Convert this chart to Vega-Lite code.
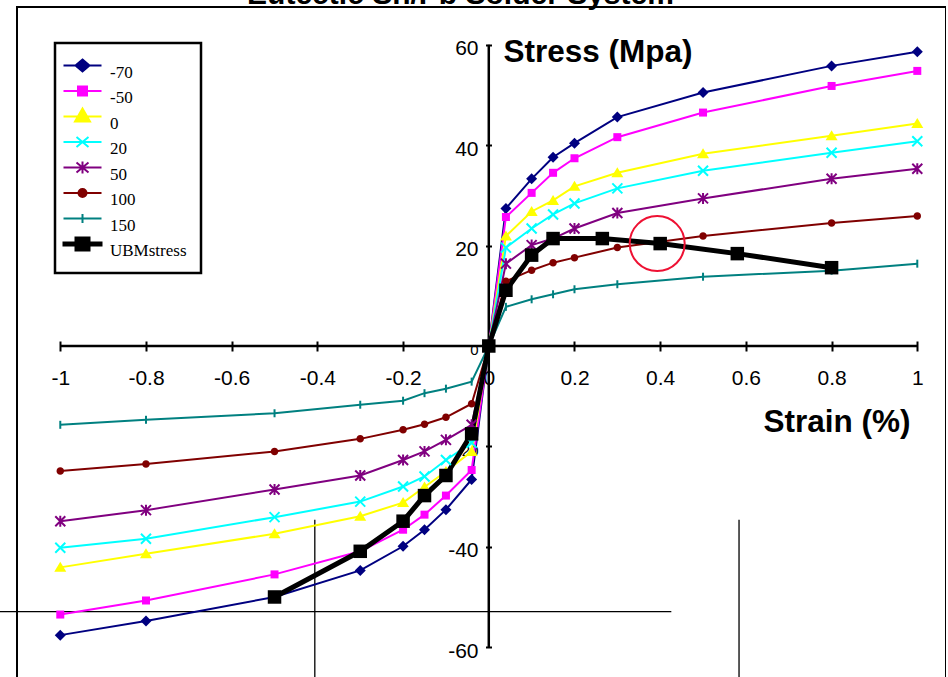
{
  "$schema": "https://vega.github.io/schema/vega-lite/v6.json",
  "width": 929,
  "height": 683,
  "autosize": {"type": "none"},
  "padding": {"left": 17, "top": 7, "right": 0, "bottom": 0},
  "background": "white",
  "config": {
    "view": {"stroke": "black", "strokeWidth": 2},
    "font": "Liberation Sans"
  },
  "title": {
    "text": "Eutectic Sn/Pb Solder System",
    "font": "Liberation Sans",
    "fontSize": 30,
    "fontWeight": "bold",
    "color": "black",
    "anchor": "middle",
    "frame": "group",
    "baseline": "alphabetic",
    "offset": 0,
    "dy": 26.5,
    "dx": -21
  },
  "datasets": {
    "curves": [
      {"series": "-70", "strain": -1, "stress": -57.6},
      {"series": "-70", "strain": -0.8, "stress": -54.8},
      {"series": "-70", "strain": -0.5, "stress": -50.0},
      {"series": "-70", "strain": -0.3, "stress": -44.7},
      {"series": "-70", "strain": -0.2, "stress": -39.9},
      {"series": "-70", "strain": -0.15, "stress": -36.6},
      {"series": "-70", "strain": -0.1, "stress": -32.6},
      {"series": "-70", "strain": -0.04, "stress": -26.6},
      {"series": "-70", "strain": 0, "stress": 0},
      {"series": "-70", "strain": 0.04, "stress": 27.4},
      {"series": "-70", "strain": 0.1, "stress": 33.3},
      {"series": "-70", "strain": 0.15, "stress": 37.6},
      {"series": "-70", "strain": 0.2, "stress": 40.4},
      {"series": "-70", "strain": 0.3, "stress": 45.6},
      {"series": "-70", "strain": 0.5, "stress": 50.5},
      {"series": "-70", "strain": 0.8, "stress": 55.8},
      {"series": "-70", "strain": 1, "stress": 58.6},

      {"series": "-50", "strain": -1, "stress": -53.5},
      {"series": "-50", "strain": -0.8, "stress": -50.7},
      {"series": "-50", "strain": -0.5, "stress": -45.5},
      {"series": "-50", "strain": -0.3, "stress": -40.9},
      {"series": "-50", "strain": -0.2, "stress": -36.6},
      {"series": "-50", "strain": -0.15, "stress": -33.6},
      {"series": "-50", "strain": -0.1, "stress": -29.8},
      {"series": "-50", "strain": -0.04, "stress": -24.7},
      {"series": "-50", "strain": 0, "stress": 0},
      {"series": "-50", "strain": 0.04, "stress": 25.7},
      {"series": "-50", "strain": 0.1, "stress": 30.5},
      {"series": "-50", "strain": 0.15, "stress": 34.5},
      {"series": "-50", "strain": 0.2, "stress": 37.4},
      {"series": "-50", "strain": 0.3, "stress": 41.6},
      {"series": "-50", "strain": 0.5, "stress": 46.5},
      {"series": "-50", "strain": 0.8, "stress": 51.8},
      {"series": "-50", "strain": 1, "stress": 54.8},

      {"series": "0", "strain": -1, "stress": -44.1},
      {"series": "0", "strain": -0.8, "stress": -41.4},
      {"series": "0", "strain": -0.5, "stress": -37.4},
      {"series": "0", "strain": -0.3, "stress": -33.9},
      {"series": "0", "strain": -0.2, "stress": -31.2},
      {"series": "0", "strain": -0.15, "stress": -28.1},
      {"series": "0", "strain": -0.1, "stress": -25.0},
      {"series": "0", "strain": -0.04, "stress": -21.0},
      {"series": "0", "strain": 0, "stress": 0},
      {"series": "0", "strain": 0.04, "stress": 21.9},
      {"series": "0", "strain": 0.1, "stress": 26.8},
      {"series": "0", "strain": 0.15, "stress": 29.0},
      {"series": "0", "strain": 0.2, "stress": 31.8},
      {"series": "0", "strain": 0.3, "stress": 34.5},
      {"series": "0", "strain": 0.5, "stress": 38.3},
      {"series": "0", "strain": 0.8, "stress": 41.9},
      {"series": "0", "strain": 1, "stress": 44.3},

      {"series": "20", "strain": -1, "stress": -40.2},
      {"series": "20", "strain": -0.8, "stress": -38.4},
      {"series": "20", "strain": -0.5, "stress": -34.1},
      {"series": "20", "strain": -0.3, "stress": -31.0},
      {"series": "20", "strain": -0.2, "stress": -28.0},
      {"series": "20", "strain": -0.15, "stress": -26.0},
      {"series": "20", "strain": -0.1, "stress": -22.7},
      {"series": "20", "strain": -0.04, "stress": -19.3},
      {"series": "20", "strain": 0, "stress": 0},
      {"series": "20", "strain": 0.04, "stress": 19.6},
      {"series": "20", "strain": 0.1, "stress": 23.4},
      {"series": "20", "strain": 0.15, "stress": 26.2},
      {"series": "20", "strain": 0.2, "stress": 28.4},
      {"series": "20", "strain": 0.3, "stress": 31.4},
      {"series": "20", "strain": 0.5, "stress": 34.9},
      {"series": "20", "strain": 0.8, "stress": 38.5},
      {"series": "20", "strain": 1, "stress": 40.8},

      {"series": "50", "strain": -1, "stress": -34.9},
      {"series": "50", "strain": -0.8, "stress": -32.7},
      {"series": "50", "strain": -0.5, "stress": -28.6},
      {"series": "50", "strain": -0.3, "stress": -25.8},
      {"series": "50", "strain": -0.2, "stress": -22.7},
      {"series": "50", "strain": -0.15, "stress": -21.0},
      {"series": "50", "strain": -0.1, "stress": -18.7},
      {"series": "50", "strain": -0.04, "stress": -15.7},
      {"series": "50", "strain": 0, "stress": 0},
      {"series": "50", "strain": 0.04, "stress": 16.4},
      {"series": "50", "strain": 0.1, "stress": 20.1},
      {"series": "50", "strain": 0.15, "stress": 21.4},
      {"series": "50", "strain": 0.2, "stress": 23.4},
      {"series": "50", "strain": 0.3, "stress": 26.5},
      {"series": "50", "strain": 0.5, "stress": 29.4},
      {"series": "50", "strain": 0.8, "stress": 33.3},
      {"series": "50", "strain": 1, "stress": 35.3},

      {"series": "100", "strain": -1, "stress": -24.9},
      {"series": "100", "strain": -0.8, "stress": -23.5},
      {"series": "100", "strain": -0.5, "stress": -21.0},
      {"series": "100", "strain": -0.3, "stress": -18.5},
      {"series": "100", "strain": -0.2, "stress": -16.7},
      {"series": "100", "strain": -0.15, "stress": -15.6},
      {"series": "100", "strain": -0.1, "stress": -14.2},
      {"series": "100", "strain": -0.04, "stress": -11.5},
      {"series": "100", "strain": 0, "stress": 0},
      {"series": "100", "strain": 0.04, "stress": 12.9},
      {"series": "100", "strain": 0.1, "stress": 15.1},
      {"series": "100", "strain": 0.15, "stress": 16.6},
      {"series": "100", "strain": 0.2, "stress": 17.6},
      {"series": "100", "strain": 0.3, "stress": 19.6},
      {"series": "100", "strain": 0.5, "stress": 21.9},
      {"series": "100", "strain": 0.8, "stress": 24.5},
      {"series": "100", "strain": 1, "stress": 25.9},

      {"series": "150", "strain": -1, "stress": -15.7},
      {"series": "150", "strain": -0.8, "stress": -14.7},
      {"series": "150", "strain": -0.5, "stress": -13.4},
      {"series": "150", "strain": -0.3, "stress": -11.7},
      {"series": "150", "strain": -0.2, "stress": -10.9},
      {"series": "150", "strain": -0.15, "stress": -9.4},
      {"series": "150", "strain": -0.1, "stress": -8.5},
      {"series": "150", "strain": -0.04, "stress": -7.1},
      {"series": "150", "strain": 0, "stress": 0},
      {"series": "150", "strain": 0.04, "stress": 7.8},
      {"series": "150", "strain": 0.1, "stress": 9.3},
      {"series": "150", "strain": 0.15, "stress": 10.3},
      {"series": "150", "strain": 0.2, "stress": 11.3},
      {"series": "150", "strain": 0.3, "stress": 12.3},
      {"series": "150", "strain": 0.5, "stress": 13.8},
      {"series": "150", "strain": 0.8, "stress": 15.0},
      {"series": "150", "strain": 1, "stress": 16.4},

      {"series": "UBMstress", "strain": -0.5, "stress": -50.0},
      {"series": "UBMstress", "strain": -0.3, "stress": -40.9},
      {"series": "UBMstress", "strain": -0.2, "stress": -34.9},
      {"series": "UBMstress", "strain": -0.15, "stress": -29.8},
      {"series": "UBMstress", "strain": -0.1, "stress": -25.8},
      {"series": "UBMstress", "strain": -0.04, "stress": -17.5},
      {"series": "UBMstress", "strain": 0, "stress": 0},
      {"series": "UBMstress", "strain": 0.04, "stress": 11.1},
      {"series": "UBMstress", "strain": 0.1, "stress": 18.1},
      {"series": "UBMstress", "strain": 0.15, "stress": 21.4},
      {"series": "UBMstress", "strain": 0.265, "stress": 21.4},
      {"series": "UBMstress", "strain": 0.4, "stress": 20.4},
      {"series": "UBMstress", "strain": 0.58, "stress": 18.4},
      {"series": "UBMstress", "strain": 0.8, "stress": 15.6}
    ],
    "axislines": [
      {"strain": -1, "strain2": 1, "stress": 0, "stress2": 0},
      {"strain": 0, "strain2": 0, "stress": -60, "stress2": 60}
    ],
    "stray": [
      {"strain": -1.141, "strain2": 0.426, "stress": -52.9, "stress2": -52.9},
      {"strain": -0.406, "strain2": -0.406, "stress": -34.6, "stress2": -68.5},
      {"strain": 0.584, "strain2": 0.584, "stress": -34.6, "stress2": -68.5}
    ],
    "highlight": [
      {"strain": 0.393, "stress": 20.4}
    ]
  },
  "layer": [
    {
      "data": {"name": "axislines"},
      "mark": {"type": "rule", "color": "black", "strokeWidth": 2.5},
      "encoding": {
        "x": {
          "field": "strain", "type": "quantitative",
          "scale": {"domain": [-1.101, 1.067], "nice": false, "zero": false},
          "axis": {
            "values": [-1, -0.8, -0.6, -0.4, -0.2, 0, 0.2, 0.4, 0.6, 0.8, 1],
            "orient": "bottom",
            "offset": -349,
            "domain": false,
            "grid": false,
            "ticks": true,
            "tickSize": 10,
            "tickWidth": 2,
            "tickColor": "black",
            "labelFont": "Liberation Sans",
            "labelFontSize": 21,
            "labelColor": "black",
            "labelBaseline": "middle",
            "labelPadding": 27,
            "labelFlush": false,
            "labelOverlap": false,
            "labelExpr": "datum.value < 0 ? '-' + format(-datum.value, '.1~f') : format(datum.value, '.1~f')",
            "title": "Strain (%)",
            "titleFont": "Liberation Sans",
            "titleFontSize": 31.5,
            "titleFontWeight": "bold",
            "titleColor": "black",
            "titleAlign": "right",
            "titleBaseline": "middle",
            "titleX": 893,
            "titleY": 81
          }
        },
        "x2": {"field": "strain2"},
        "y": {
          "field": "stress", "type": "quantitative",
          "scale": {"domain": [-68.53, 67.53], "nice": false, "zero": false},
          "axis": {
            "values": [-60, -40, -20, 0, 20, 40, 60],
            "orient": "left",
            "offset": -474.5,
            "domain": false,
            "grid": false,
            "tickSize": 6,
            "tickWidth": 2,
            "tickColor": "black",
            "labelFont": "Liberation Sans",
            "labelFontSize": {"condition": {"test": "datum.value == 0 || datum.value == -20", "value": 15}, "value": 21},
            "labelColor": "black",
            "labelBaseline": "middle",
            "labelOffset": 4,
            "labelPadding": 7.5,
            "labelOverlap": false,
            "labelFlush": false,
            "labelExpr": "datum.value < 0 ? '-' + format(-datum.value, 'd') : format(datum.value, 'd')",
            "title": "Stress (Mpa)",
            "titleFont": "Liberation Sans",
            "titleFontSize": 31.5,
            "titleFontWeight": "bold",
            "titleColor": "black",
            "titleAngle": 0,
            "titleAlign": "left",
            "titleBaseline": "middle",
            "titleX": 11.5,
            "titleY": 45
          }
        },
        "y2": {"field": "stress2"}
      }
    },
    {
      "data": {"name": "stray"},
      "mark": {"type": "rule", "color": "black", "strokeWidth": 1.3},
      "encoding": {
        "x": {"field": "strain", "type": "quantitative"},
        "x2": {"field": "strain2"},
        "y": {"field": "stress", "type": "quantitative"},
        "y2": {"field": "stress2"}
      }
    },
    {
      "data": {"name": "curves"},
      "transform": [{"filter": "datum.series !== 'UBMstress'"}],
      "mark": {"type": "line", "strokeWidth": 2},
      "encoding": {
        "x": {"field": "strain", "type": "quantitative"},
        "y": {"field": "stress", "type": "quantitative"},
        "order": {"field": "strain", "type": "quantitative"},
        "color": {
          "field": "series", "type": "nominal",
          "scale": {
            "domain": ["-70", "-50", "0", "20", "50", "100", "150", "UBMstress"],
            "range": ["#000080", "#FF00FF", "#FFFF00", "#00FFFF", "#800080", "#800000", "#008080", "#000000"]
          },
          "legend": {
            "title": null,
            "orient": "none",
            "legendX": 38,
            "legendY": 36,
            "strokeColor": "black",
            "fillColor": "white",
            "padding": 14,
            "symbolOffset": 5,
            "symbolSize": 100,
            "rowPadding": -2.5,
            "labelOffset": 19,
            "labelFont": "Liberation Serif",
            "labelFontSize": 17,
            "labelColor": "black",
            "labelBaseline": "middle",
            "encode": {
              "legend": {"update": {"strokeWidth": {"value": 2.5}}},
              "labels": {"update": {"dy": {"value": 7}}},
              "symbols": {
                "update": {
                  "shape": {"signal": "'M0,-1.65M0,1.65M-3.8,0L3.8,0' + (datum.value === '-70' ? 'M0,-1.2L1.4,0L0,1.2L-1.4,0Z' : datum.value === '-50' ? 'M-0.9,-0.9L0.9,-0.9L0.9,0.9L-0.9,0.9Z' : datum.value === '0' ? 'M0,-1.6L1.5,1L-1.5,1Z' : datum.value === '20' ? 'M-1.2,-1L1.2,1M-1.2,1L1.2,-1' : datum.value === '50' ? 'M-1.2,-1L1.2,1M-1.2,1L1.2,-1M0,-1.2L0,1.2' : datum.value === '100' ? 'M-0.8,0A0.8,0.8,0,1,1,0.8,0A0.8,0.8,0,1,1,-0.8,0Z' : datum.value === '150' ? 'M0,-0.9L0,0.9' : 'M-3.8,-0.3L3.8,-0.3L3.8,0.3L-3.8,0.3ZM-1.4,-1.3L1.4,-1.3L1.4,1.3L-1.4,1.3Z')"},
                  "fill": {"signal": "scale('color', datum.value)"},
                  "stroke": {"signal": "scale('color', datum.value)"},
                  "strokeWidth": {"value": 2},
                  "opacity": {"value": 1},
                  "fillOpacity": {"value": 1},
                  "strokeOpacity": {"value": 1}
                }
              }
            }
          }
        }
      }
    },
    {
      "data": {"name": "curves"},
      "transform": [{"filter": "datum.series === 'UBMstress'"}],
      "mark": {"type": "line", "strokeWidth": 5},
      "encoding": {
        "x": {"field": "strain", "type": "quantitative"},
        "y": {"field": "stress", "type": "quantitative"},
        "order": {"field": "strain", "type": "quantitative"},
        "color": {"field": "series", "type": "nominal"}
      }
    },
    {
      "data": {"name": "curves"},
      "transform": [{"filter": "datum.series === '-70'"}],
      "mark": {"type": "point", "filled": true, "size": 100, "opacity": 1, "shape": "M0,-1.1L1.1,0L0,1.1L-1.1,0Z"},
      "encoding": {
        "x": {"field": "strain", "type": "quantitative"},
        "y": {"field": "stress", "type": "quantitative"},
        "color": {"field": "series", "type": "nominal"}
      }
    },
    {
      "data": {"name": "curves"},
      "transform": [{"filter": "datum.series === '-50'"}],
      "mark": {"type": "point", "filled": true, "size": 100, "opacity": 1, "shape": "M-0.8,-0.8L0.8,-0.8L0.8,0.8L-0.8,0.8Z"},
      "encoding": {
        "x": {"field": "strain", "type": "quantitative"},
        "y": {"field": "stress", "type": "quantitative"},
        "color": {"field": "series", "type": "nominal"}
      }
    },
    {
      "data": {"name": "curves"},
      "transform": [{"filter": "datum.series === '0'"}],
      "mark": {"type": "point", "filled": true, "size": 100, "opacity": 1, "shape": "M0,-1.1L1.2,0.9L-1.2,0.9Z"},
      "encoding": {
        "x": {"field": "strain", "type": "quantitative"},
        "y": {"field": "stress", "type": "quantitative"},
        "color": {"field": "series", "type": "nominal"}
      }
    },
    {
      "data": {"name": "curves"},
      "transform": [{"filter": "datum.series === '20'"}],
      "mark": {"type": "point", "filled": false, "size": 100, "strokeWidth": 2, "opacity": 1, "shape": "M-1,-1L1,1M-1,1L1,-1"},
      "encoding": {
        "x": {"field": "strain", "type": "quantitative"},
        "y": {"field": "stress", "type": "quantitative"},
        "color": {"field": "series", "type": "nominal"}
      }
    },
    {
      "data": {"name": "curves"},
      "transform": [{"filter": "datum.series === '50'"}],
      "mark": {"type": "point", "filled": false, "size": 100, "strokeWidth": 2, "opacity": 1, "shape": "M-1,-1L1,1M-1,1L1,-1M0,-1.1L0,1.1"},
      "encoding": {
        "x": {"field": "strain", "type": "quantitative"},
        "y": {"field": "stress", "type": "quantitative"},
        "color": {"field": "series", "type": "nominal"}
      }
    },
    {
      "data": {"name": "curves"},
      "transform": [{"filter": "datum.series === '100'"}],
      "mark": {"type": "point", "filled": true, "size": 100, "opacity": 1, "shape": "M-0.75,0A0.75,0.75,0,1,1,0.75,0A0.75,0.75,0,1,1,-0.75,0Z"},
      "encoding": {
        "x": {"field": "strain", "type": "quantitative"},
        "y": {"field": "stress", "type": "quantitative"},
        "color": {"field": "series", "type": "nominal"}
      }
    },
    {
      "data": {"name": "curves"},
      "transform": [{"filter": "datum.series === '150'"}],
      "mark": {"type": "point", "filled": false, "size": 100, "strokeWidth": 2, "opacity": 1, "shape": "M0,-0.8L0,0.8"},
      "encoding": {
        "x": {"field": "strain", "type": "quantitative"},
        "y": {"field": "stress", "type": "quantitative"},
        "color": {"field": "series", "type": "nominal"}
      }
    },
    {
      "data": {"name": "curves"},
      "transform": [{"filter": "datum.series === 'UBMstress'"}],
      "mark": {"type": "point", "filled": true, "size": 100, "opacity": 1, "shape": "M-1.35,-1.35L1.35,-1.35L1.35,1.35L-1.35,1.35Z"},
      "encoding": {
        "x": {"field": "strain", "type": "quantitative"},
        "y": {"field": "stress", "type": "quantitative"},
        "color": {"field": "series", "type": "nominal"}
      }
    },
    {
      "data": {"name": "highlight"},
      "mark": {"type": "point", "shape": "circle", "filled": false, "size": 3025, "stroke": "#EE1133", "strokeWidth": 2, "opacity": 1},
      "encoding": {
        "x": {"field": "strain", "type": "quantitative"},
        "y": {"field": "stress", "type": "quantitative"}
      }
    }
  ]
}
